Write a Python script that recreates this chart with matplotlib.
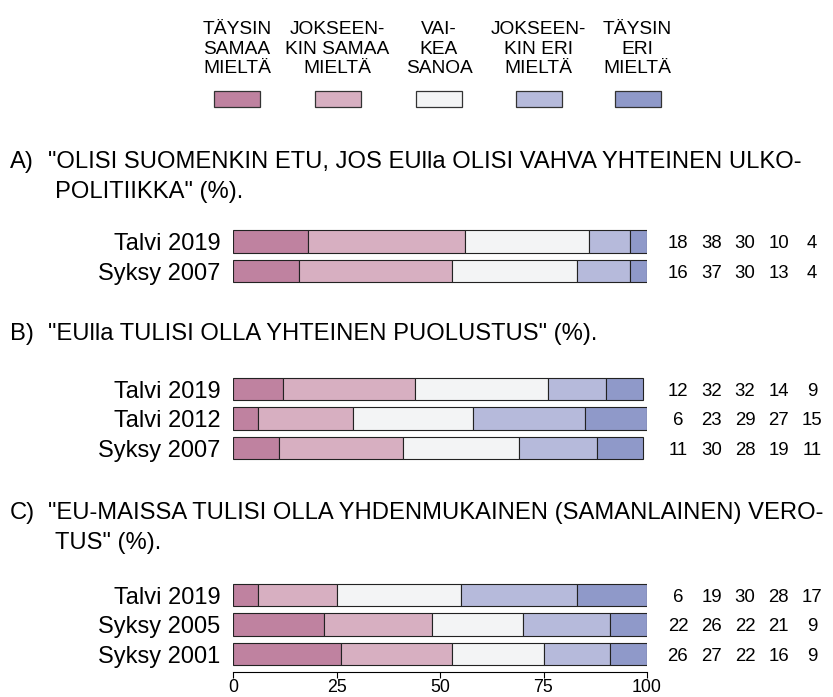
import matplotlib
matplotlib.use('Agg')

import matplotlib.pyplot as plt
from matplotlib.transforms import blended_transform_factory

plt.rcParams['font.family'] = ['Liberation Sans', 'DejaVu Sans']

# ===== 数据 =====
categories = ['TÄYSIN\nSAMAA\nMIELTÄ', 'JOKSEEN-\nKIN SAMAA\nMIELTÄ', 'VAI-\nKEA\nSANOA',
              'JOKSEEN-\nKIN ERI\nMIELTÄ', 'TÄYSIN\nERI\nMIELTÄ']
colors = ['#BF82A0', '#D7AFC1', '#F3F4F5', '#B6BADB', '#8F99C9']

title_a = ['A)', '"OLISI SUOMENKIN ETU, JOS EUlla OLISI VAHVA YHTEINEN ULKO-', 'POLITIIKKA" (%).']
rows_a = ['Talvi 2019', 'Syksy 2007']
vals_a = [[18, 38, 30, 10, 4],
          [16, 37, 30, 13, 4]]

title_b = ['B)', '"EUlla TULISI OLLA YHTEINEN PUOLUSTUS" (%).']
rows_b = ['Talvi 2019', 'Talvi 2012', 'Syksy 2007']
vals_b = [[12, 32, 32, 14, 9],
          [6, 23, 29, 27, 15],
          [11, 30, 28, 19, 11]]

title_c = ['C)', '"EU-MAISSA TULISI OLLA YHDENMUKAINEN (SAMANLAINEN) VERO-', 'TUS" (%).']
rows_c = ['Talvi 2019', 'Syksy 2005', 'Syksy 2001']
vals_c = [[6, 19, 30, 28, 17],
          [22, 26, 22, 21, 9],
          [26, 27, 22, 16, 9]]

xticks = [0, 25, 50, 75, 100]

W, H = 833, 697
fig = plt.figure(figsize=(W / 100, H / 100), dpi=100)


def fx(x):
    return x / W


def fy(y):
    return 1 - y / H


# ===== 图例 =====
leg_x = [237, 337.5, 439, 538.5, 637.5]
for cx, lab, col in zip(leg_x, categories, colors):
    fig.text(fx(cx), fy(49), lab, ha='center', va='center', ma='center',
             fontsize=13.8, linespacing=1.22)
    fig.patches.append(plt.Rectangle((fx(cx - 23), fy(107)), 46 / W, 16 / H,
                                     transform=fig.transFigure, facecolor=col,
                                     edgecolor='#333333', linewidth=0.9))


# ===== 每个问题一个坐标轴 =====
def panel(title, rows, vals, top, title_y, last=False):
    n = len(rows)
    pitch = 29.6
    ax = fig.add_axes([fx(233), fy(top + n * pitch), 414 / W, n * pitch / H])
    left = [0] * n
    for j in range(len(colors)):
        seg = [v[j] for v in vals]
        ax.barh(range(n), seg, left=left, height=0.76, color=colors[j],
                edgecolor='#222222', linewidth=0.8)
        left = [a + b for a, b in zip(left, seg)]
    ax.set_xlim(0, 100)
    ax.set_ylim(n - 0.5, -0.5)
    ax.set_yticks(range(n))
    ax.set_yticklabels(rows, fontsize=17)
    ax.tick_params(axis='y', length=0, pad=9)
    for s in ['top', 'right', 'left']:
        ax.spines[s].set_visible(False)
    if last:
        ax.spines['bottom'].set_position(('outward', 2.5))
        ax.spines['bottom'].set_linewidth(0.8)
        ax.set_xticks(xticks)
        ax.set_xticklabels([str(t) for t in xticks], fontsize=12.8)
        ax.tick_params(axis='x', length=4.5, width=0.8, pad=0.5)
    else:
        ax.spines['bottom'].set_visible(False)
        ax.set_xticks([])

    # 右侧数值
    tr = blended_transform_factory(fig.transFigure, ax.transData)
    col_x = [678, 711.5, 745, 778.5, 812]
    for i, v in enumerate(vals):
        for cx, num in zip(col_x, v):
            ax.text(fx(cx), i, str(num), transform=tr, ha='center',
                    va='center_baseline', fontsize=13.4)

    # 标题
    fig.text(fx(10), fy(title_y), title[0], fontsize=17.1, va='baseline')
    fig.text(fx(48), fy(title_y), title[1], fontsize=17.1, va='baseline')
    if len(title) > 2:
        fig.text(fx(55), fy(title_y + 30), title[2], fontsize=17.1, va='baseline')
    return ax


panel(title_a, rows_a, vals_a, top=226.7, title_y=168)
panel(title_b, rows_b, vals_b, top=374.2, title_y=340)
panel(title_c, rows_c, vals_c, top=580.2, title_y=519, last=True)

fig.savefig('out.png', dpi=100)
